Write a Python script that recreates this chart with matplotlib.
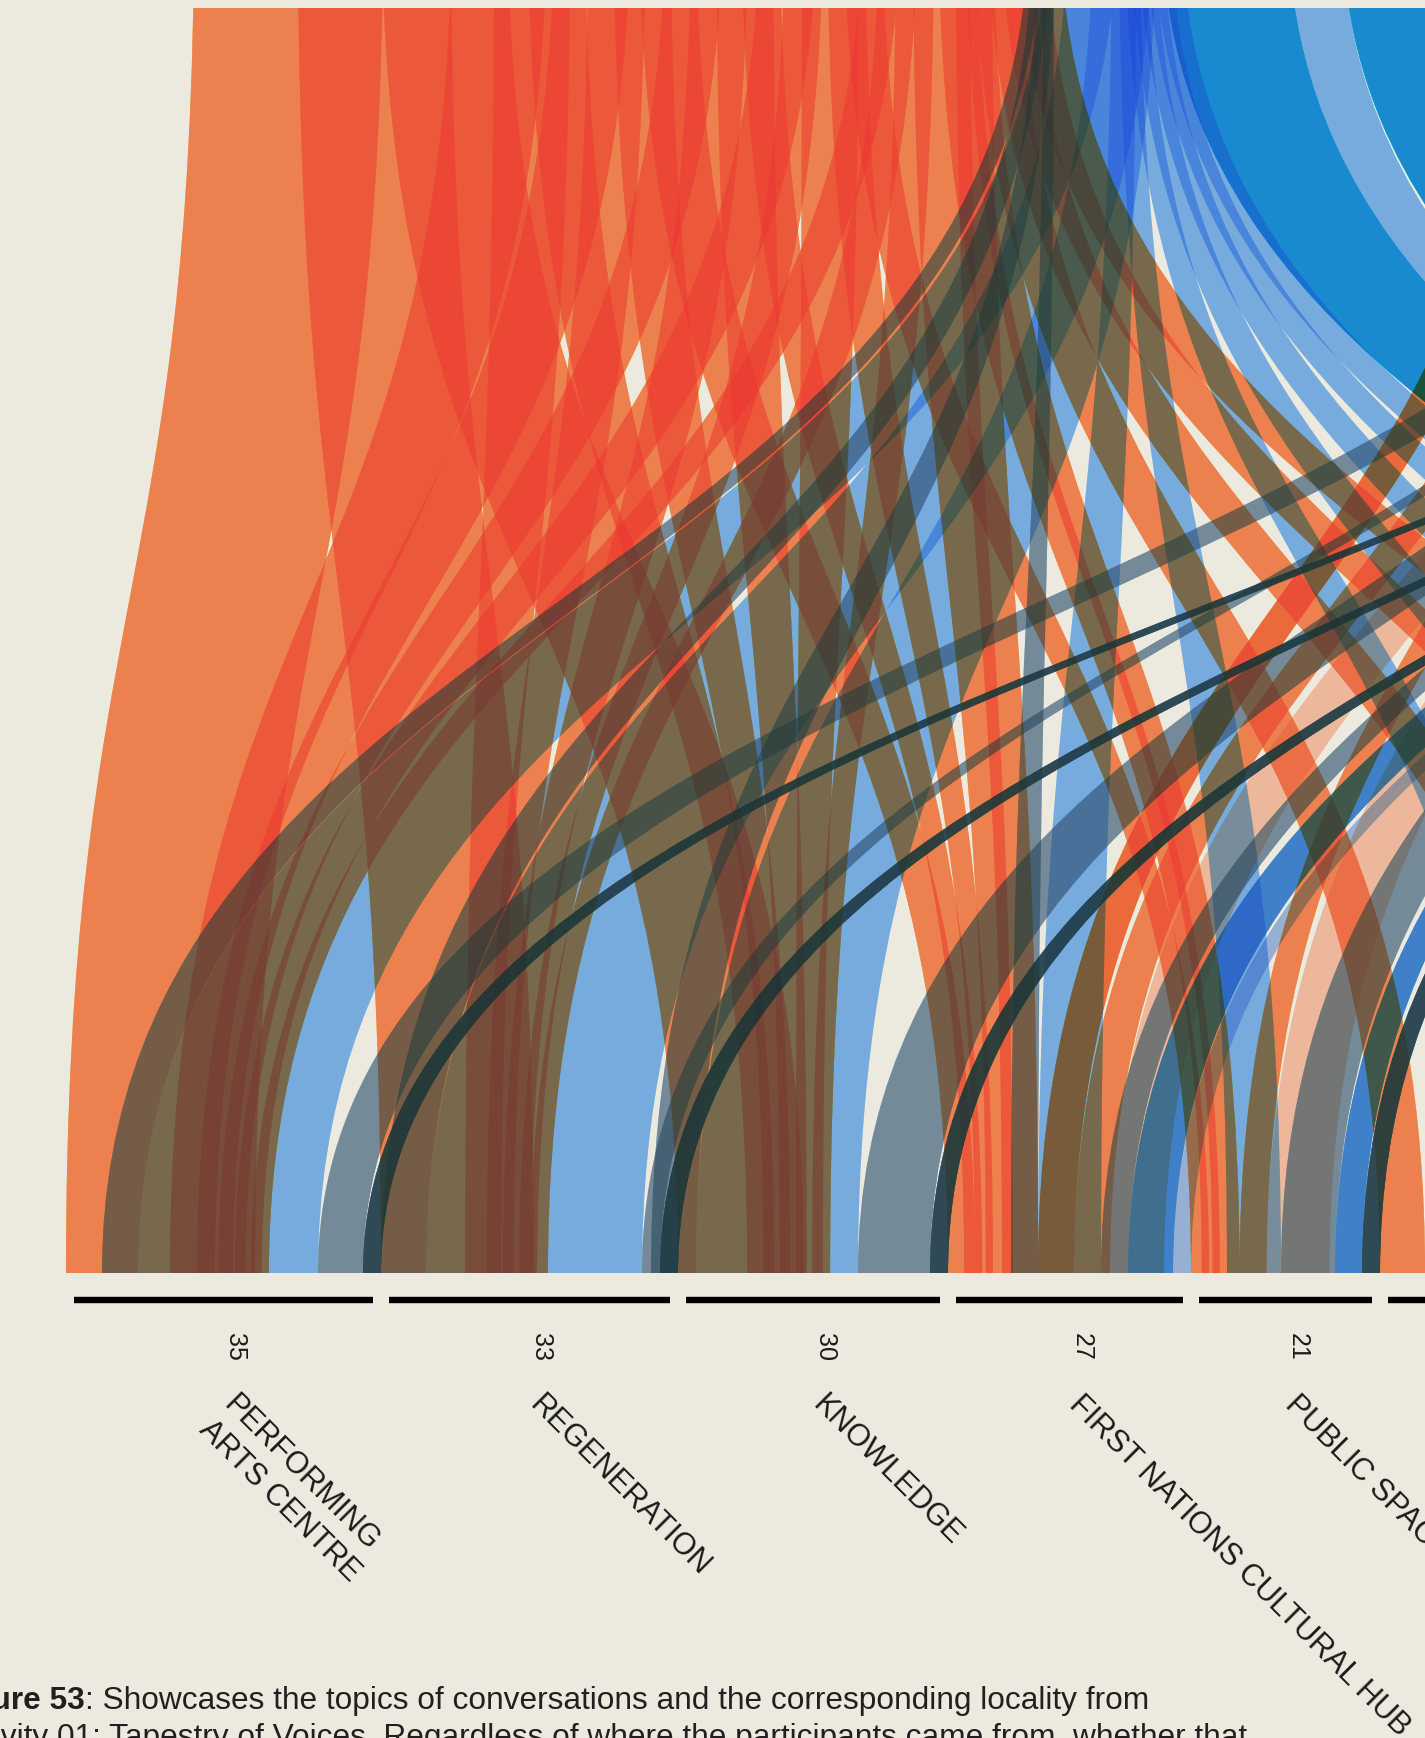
import numpy as np
import matplotlib
matplotlib.use("Agg")
import matplotlib.pyplot as plt
import matplotlib.colors as mcolors
from matplotlib.figure import Figure
from matplotlib.backends.backend_agg import FigureCanvasAgg
from matplotlib.path import Path
from matplotlib.patches import PathPatch, Rectangle

W, H, DPI = 1425, 1738, 100
BG = "#ECE9DE"

# ---------------- topics along the bottom ----------------
PAC, REG, KNOW, FN, PS, HER, HOU, TRA, ENV, ECO, COM, EDU, HEA, SPO = range(14)
topic_names = ["PERFORMING\nARTS CENTRE", "REGENERATION", "KNOWLEDGE",
               "FIRST NATIONS CULTURAL HUB", "PUBLIC SPACE", "HERITAGE",
               "HOUSING", "TRANSPORT", "ENVIRONMENT", "ECONOMY",
               "COMMUNITY", "EDUCATION", "HEALTH", "SPORT"]
topic_counts = [35, 33, 30, 27, 21, 20, 19, 18, 17, 16, 15, 14, 13, 12]

# ---------------- localities along the top (left to right) ----------------
ORANGE, ORANGE_RED, SALMON = "#EC804E", "#EB6A3C", "#EDB79B"
LIGHT_BLUE, BLUE, SLATE = "#78ABDD", "#0B8ACF", "#748A99"
DARK_TEAL, MID_BLUE, PERIWINKLE = "#2F4A55", "#4080C8", "#96AFD2"
WARM = {ORANGE, ORANGE_RED, SALMON}

loc_colors = [ORANGE] * 9 + [SLATE, LIGHT_BLUE, BLUE, LIGHT_BLUE, BLUE,
                             ORANGE_RED, ORANGE, SALMON,
                             SLATE, MID_BLUE, PERIWINKLE, DARK_TEAL]
loc_kind = ["big"] * 3 + ["small"] * 5 + ["under", "spray", "spray"] + ["stack"] * 11
loc_flows = [
    [(PAC, 21)],
    [(REG, 17)],
    [(KNOW, 14)],
    [(PAC, 5), (REG, 4), (KNOW, 3)],
    [(PAC, 4), (REG, 3), (KNOW, 3), (FN, 3)],
    [(PAC, 3), (REG, 3), (KNOW, 3), (FN, 2)],
    [(PAC, 3), (REG, 2), (KNOW, 3), (FN, 2), (PS, 2)],
    [(PAC, 2), (REG, 2), (KNOW, 2), (FN, 3), (PS, 2)],
    [(FN, 4), (PS, 3), (HER, 5), (HOU, 5), (TRA, 5), (ENV, 5)],
    [(PAC, 4), (REG, 5), (KNOW, 5), (FN, 3)],
    [(PAC, 20), (REG, 24), (KNOW, 18), (FN, 7), (PS, 6),
     (HER, 6), (HOU, 7), (TRA, 7), (ENV, 7), (ECO, 8)],
    [(COM, 6), (EDU, 8)],
    [(EDU, 6)],
    [(HEA, 8), (SPO, 12)],
    [(FN, 4), (HER, 5)],
    [(FN, 4), (PS, 3)],
    [(FN, 6), (PS, 7)],
    [(PAC, 5), (REG, 2), (KNOW, 8), (FN, 3), (PS, 6)],
    [(FN, 5), (PS, 3)],
    [(FN, 2)],
    [(PAC, 2), (REG, 2), (KNOW, 2), (PS, 2)],
]

# layout: (px per participant at the top, advance along the top, advance at the bottom)
LAYOUT = {"big": (9.0, 0.55, 0.55), "small": (19.0, 0.45, 0.6),
          "under": (9.0, 0.3, 1.0), "spray": (3.5, 0.3, 1.0),
          "stack": (9.0, 1.0, 1.0)}
UNIT = 9.0
TOP_X0, BOT_X0 = 194.0, 66.0
Y_TOP, Y_BOT, Y_CLIP = -80.0, 1273.0, 8.0
BAR_Y, BAR_GAP = 1300.0, 8.0
INK_MAX = np.array([2.3, 1.55, 1.45])   # ink density where overprinting saturates

# ---------------- ribbon end points ----------------
ribbons = []
cursor = TOP_X0
for color, kind, flows in zip(loc_colors, loc_kind, loc_flows):
    scale, step, bstep = LAYOUT[kind]
    for topic, count in flows:
        w = count * scale
        ribbons.append({"color": color, "topic": topic, "count": count, "bstep": bstep,
                        "xt0": cursor, "xt1": cursor + w})
        cursor += w * step

counts = np.array(topic_counts, dtype=float)
t_left = BOT_X0 + UNIT * np.concatenate([[0], np.cumsum(counts)[:-1]])
t_right = t_left + UNIT * counts

# warm ribbons fill each topic from the left, cool ones from the right
fill_l = t_left.copy()
for r in ribbons:
    if r["color"] in WARM:
        t, w = r["topic"], r["count"] * UNIT
        r["xb0"], r["xb1"] = fill_l[t], fill_l[t] + w
        fill_l[t] += w * r["bstep"]
fill_r = t_right.copy()
for r in reversed(ribbons):
    if r["color"] not in WARM:
        t, w = r["topic"], r["count"] * UNIT
        r["xb0"], r["xb1"] = fill_r[t] - w, fill_r[t]
        fill_r[t] -= w * r["bstep"]


def ribbon_path(xt0, xt1, xb0, xb1):
    k = 0.5 * (Y_BOT - Y_TOP)
    verts = [(xt0, Y_TOP), (xt0, Y_TOP + k), (xb0, Y_BOT - k), (xb0, Y_BOT),
             (xb1, Y_BOT), (xb1, Y_BOT - k), (xt1, Y_TOP + k), (xt1, Y_TOP),
             (xt0, Y_TOP)]
    codes = [Path.MOVETO, Path.CURVE4, Path.CURVE4, Path.CURVE4,
             Path.LINETO, Path.CURVE4, Path.CURVE4, Path.CURVE4, Path.CLOSEPOLY]
    return Path(verts, codes)


def ink(color, bg):
    # density of a colour printed on the paper, in the saturating ink model
    d = -np.log(np.clip(np.array(mcolors.to_rgb(color)) / bg, 1e-4, 1.0))
    d = np.minimum(d, 0.97 * INK_MAX)
    return -INK_MAX * np.log(1.0 - d / INK_MAX)


# ---------------- render every ribbon as a coverage mask and overprint ----------------
mfig = Figure(figsize=(W / DPI, H / DPI), dpi=DPI, facecolor="white")
FigureCanvasAgg(mfig)
max_ = mfig.add_axes([0, 0, 1, 1])
max_.set_xlim(0, W)
max_.set_ylim(H, 0)
max_.axis("off")
patch = PathPatch(ribbon_path(0, 1, 0, 1), facecolor="black", edgecolor="none")
max_.add_patch(patch)
patch.set_clip_path(Rectangle((0, Y_CLIP), W, Y_BOT - Y_CLIP, transform=max_.transData))

bg = np.array(mcolors.to_rgb(BG))
density = np.zeros((H, W, 3))
for r in ribbons:
    patch.set_path(ribbon_path(r["xt0"], r["xt1"], r["xb0"], r["xb1"]))
    mfig.canvas.draw()
    cov = 1.0 - np.asarray(mfig.canvas.buffer_rgba())[:, :, 0] / 255.0
    density += cov[:, :, None] * ink(r["color"], bg)
img = bg * np.exp(-INK_MAX * (1.0 - np.exp(-density / INK_MAX)))

# ---------------- main figure ----------------
plt.rcParams["font.family"] = ["Liberation Sans", "DejaVu Sans"]
fig = plt.figure(figsize=(W / DPI, H / DPI), dpi=DPI, facecolor=BG)
ax = fig.add_axes([0, 0, 1, 1])
ax.set_xlim(0, W)
ax.set_ylim(H, 0)
ax.axis("off")
ax.imshow(img, extent=(0, W, H, 0), interpolation="nearest", aspect="auto")

for i, (name, n) in enumerate(zip(topic_names, topic_counts)):
    x0, x1 = t_left[i] + BAR_GAP, t_right[i] - BAR_GAP
    ax.plot([x0, x1], [BAR_Y, BAR_Y], color="black", lw=4.6, solid_capstyle="butt")
    xc = (t_left[i] + t_right[i]) / 2
    if xc + 12 < W:
        ax.text(xc + 12, 1347, str(n), rotation=-90, ha="center", va="center",
                fontsize=18, color="#1a1a1a")
        ax.text(xc + 15, 1390, name, rotation=-45, rotation_mode="anchor",
                ha="left", va="top", fontsize=22, color="#1a1a1a",
                linespacing=1.2)

# caption
CAP = 22.8
ax.text(85, 1709, "Figure 53", ha="right", va="baseline", fontsize=CAP,
        fontweight="bold", color="#231F20")
ax.text(85, 1709, ": Showcases the topics of conversations and the corresponding locality from",
        ha="left", va="baseline", fontsize=CAP, color="#231F20")
ax.text(1247, 1746, "Activity 01: Tapestry of Voices. Regardless of where the participants came from, whether that",
        ha="right", va="baseline", fontsize=CAP, color="#231F20")

fig.savefig("out.png", dpi=DPI, facecolor=BG)
